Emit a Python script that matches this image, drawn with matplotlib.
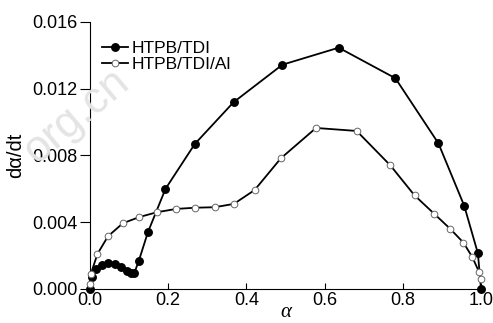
import numpy as np
import matplotlib.pyplot as plt

plt.rcParams['font.family'] = ['Liberation Sans Narrow', 'Liberation Sans', 'DejaVu Sans']

# HTPB/TDI (filled markers)
alpha_tdi = [0.0, 0.004, 0.015, 0.031, 0.047, 0.064, 0.079, 0.094, 0.104, 0.113,
             0.125, 0.148, 0.193, 0.268, 0.367, 0.492, 0.636, 0.781, 0.891, 0.957,
             0.992, 1.0]
rate_tdi = [0.0, 0.0007, 0.0012, 0.00146, 0.00158, 0.00152, 0.00134, 0.0011, 0.00094, 0.00094,
            0.0017, 0.0034, 0.0060, 0.00869, 0.01119, 0.01344, 0.01446, 0.01263, 0.00873, 0.00499,
            0.00214, 0.0]

# HTPB/TDI/Al (open markers)
alpha_al = [0.0, 0.002, 0.019, 0.046, 0.084, 0.126, 0.171, 0.221, 0.269, 0.319,
            0.368, 0.421, 0.488, 0.578, 0.682, 0.768, 0.830, 0.881, 0.921, 0.955,
            0.978, 0.995, 1.0]
rate_al = [0.0003, 0.0009, 0.0021, 0.00316, 0.00394, 0.00431, 0.0046, 0.0048, 0.00487, 0.0049,
           0.0051, 0.00593, 0.00783, 0.00965, 0.00947, 0.00741, 0.00561, 0.00449, 0.00361, 0.00278,
           0.0019, 0.00102, 0.0006]

xticks = [0.0, 0.2, 0.4, 0.6, 0.8, 1.0]
yticks = [0.000, 0.004, 0.008, 0.012, 0.016]

fig = plt.figure(figsize=(4.93, 3.23), dpi=100)
ax = fig.add_axes([0.1826, 0.1053, 0.7931, 0.8266])

# faint watermark
fig.text(0.155, 0.64, "org.cn", fontsize=32, color='#e4e4e4', rotation=40,
         family='Liberation Sans', ha='center', va='center', zorder=0)

ax.plot(alpha_tdi, rate_tdi, '-', color='black', lw=1.3, marker='o', ms=5.4,
        mfc='black', mec='black', label='HTPB/TDI', clip_on=False, zorder=3)
ax.plot(alpha_al, rate_al, '-', color='black', lw=1.3, marker='o', ms=4.8,
        mfc='white', mec='#666666', mew=0.7, label='HTPB/TDI/Al', clip_on=False, zorder=4)

ax.set_xlim(0, 1.0)
ax.set_ylim(0, 0.016)
ax.set_xticks(xticks)
ax.set_xticklabels([f"{v:.1f}" for v in xticks])
ax.set_yticks(yticks)
ax.set_yticklabels([f"{v:.3f}" for v in yticks])
ax.spines['top'].set_visible(False)
ax.spines['right'].set_visible(False)
ax.tick_params(axis='x', direction='in', length=4, labelsize=13, pad=2)
ax.tick_params(axis='y', direction='out', length=7, labelsize=13, pad=2)

ax.set_xlabel('α', family='Liberation Serif', style='italic', fontsize=15, labelpad=-4)
ax.set_ylabel('dα/dt', fontsize=14.5, labelpad=5)

leg = ax.legend(loc='upper left', bbox_to_anchor=(0.0, 0.975), frameon=False,
                fontsize=12.5, handlelength=1.5, handletextpad=0.2, labelspacing=0.05,
                borderaxespad=0.3)

fig.savefig('out.png', dpi=100)
